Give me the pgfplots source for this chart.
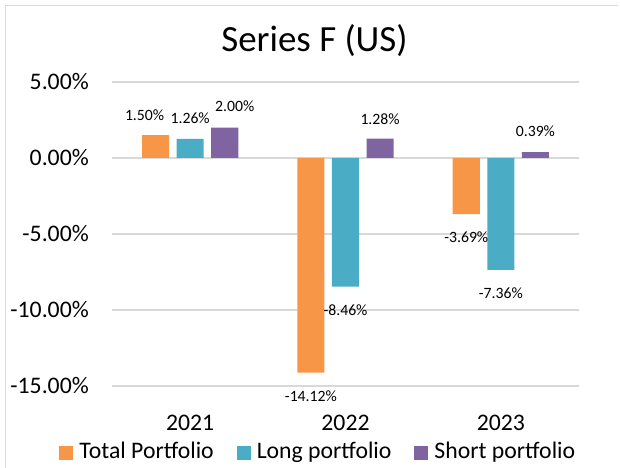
\documentclass[border=0pt]{standalone}
\usepackage{fontspec}
\setmainfont{Carlito}
\usepackage{pgfplots}
\usepackage{pgfplotstable}
\pgfplotsset{compat=1.18}

\definecolor{totalc}{HTML}{F79646}
\definecolor{longc}{HTML}{4BACC6}
\definecolor{shortc}{HTML}{8064A2}
\definecolor{gridc}{HTML}{D9D9D9}

% x: category, y: return in %, dx/dy: label offset in px
\pgfplotstableread{
x y dx dy
0 1.50 -11 20
1 -14.12 0 -23.5
2 -3.69 0 -23.5
}\totaltab
\pgfplotstableread{
x y dx dy
0 1.26 0 20.5
1 -8.46 0 -23.5
2 -7.36 0 -23.5
}\longtab
\pgfplotstableread{
x y dx dy
0 2.00 10 21
1 1.28 0 19
2 0.39 0 21
}\shorttab

\begin{document}
\begin{tikzpicture}
  \useasboundingbox (-84.375pt,-60.75pt) rectangle (380.625pt,289.5pt);
  \draw[gridc, line width=1pt] (-80.25pt,-70pt) -- (-80.25pt,285.4pt) -- (378.75pt,285.4pt);
  \begin{axis}[
      at={(0,0)}, anchor=south west,
      scale only axis, width=349.5pt, height=228pt,
      xmin=-0.5, xmax=2.5, ymin=-15, ymax=5,
      xtick={0,1,2}, xticklabels={2021,2022,2023},
      ytick={-15,-10,-5,0,5},
      yticklabels={-15.00\%,-10.00\%,-5.00\%,0.00\%,5.00\%},
      axis line style={draw=none}, tick style={draw=none},
      ymajorgrids, grid style={draw=gridc, line width=0.8pt},
      ticklabel style={font=\fontsize{17.8}{20}\selectfont},
      yticklabel style={anchor=east, inner sep=0pt, xshift=-17.6pt},
      xticklabel style={anchor=center, inner sep=0pt, yshift=-23.25pt},
      title={Series F (US)},
      title style={at={(axis description cs:0.4335,1.1086)}, anchor=center,
                   inner sep=0pt, font=\fontsize{27.7}{33}\selectfont},
      ybar, bar width=0.174,
      point meta=explicit symbolic,
      nodes near coords={\pgfplotspointmeta\%},
      nodes near coords align={anchor=center},
      visualization depends on={\thisrow{dx} \as \dx},
      visualization depends on={\thisrow{dy} \as \dy},
      every node near coord/.append style={font=\fontsize{11.8}{14}\selectfont,
          text=black, inner sep=0pt, anchor=center,
          xshift=\dx*0.75pt, yshift=\dy*0.75pt},
      legend columns=3,
      legend image code/.code={\fill[#1] (0pt,-6.5pt) rectangle (10.5pt,4pt);
          \path (15pt,0pt);},
      legend style={draw=none, fill=none, at={(axis description cs:0.4395,-0.214)},
          anchor=center, font=\fontsize{17.8}{20}\selectfont,
          nodes={inner xsep=0pt, inner ysep=0pt},
          /tikz/every even column/.append style={column sep=17.25pt}},
    ]
    \addplot[fill=totalc, draw=none, bar shift=-0.2226] table[x=x, y=y, meta=y] {\totaltab};
    \addplot[fill=longc, draw=none, bar shift=0] table[x=x, y=y, meta=y] {\longtab};
    \addplot[fill=shortc, draw=none, bar shift=0.2226] table[x=x, y=y, meta=y] {\shorttab};
    \legend{Total Portfolio, Long portfolio, Short portfolio}
  \end{axis}
\end{tikzpicture}
\end{document}
